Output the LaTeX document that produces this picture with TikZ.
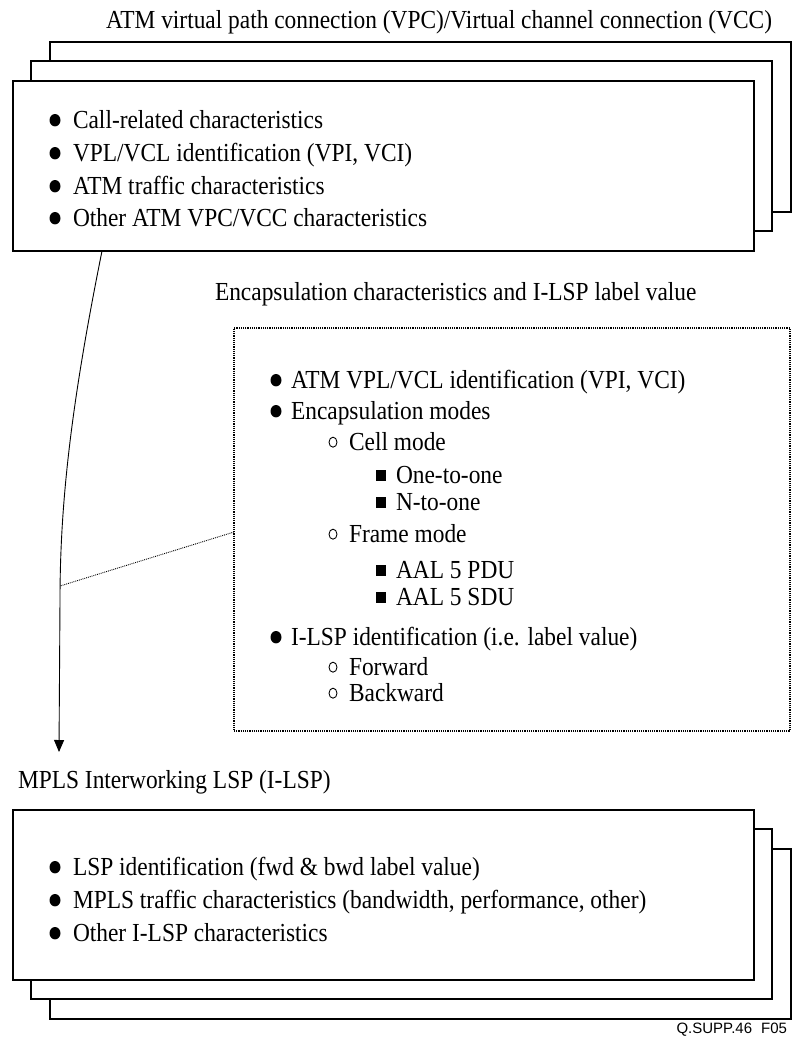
\documentclass[tikz,border=0pt]{standalone}
\usepackage{fontspec}
\setmainfont{Liberation Serif}[FakeStretch=0.9]
\newfontfamily\figsans{Liberation Sans}
\usetikzlibrary{arrows.meta}

% list markers placed left of an item's baseline
\newcommand\mkfull[2]{\fill ([shift={(#2,-7.8)}]#1.base west) ellipse (5.5 and 6.2);}
\newcommand\mkopen[2]{\draw[line width=0.9pt] ([shift={(#2,-7.8)}]#1.base west) ellipse (4 and 5);}
\newcommand\mksquare[2]{\fill ([shift={(#2,-7.8)}]#1.base west) +(-5.2,-5.5) rectangle +(5.2,5.5);}

\begin{document}
\begin{tikzpicture}[x=1pt,y=-1pt,
  every node/.style={inner sep=0pt, outer sep=0pt},
  txt/.style={font=\fontsize{26}{30}\selectfont, anchor=base west},
  card/.style={draw, line width=1.2pt, fill=white, anchor=north west,
    minimum width=741pt, minimum height=170pt},
  encbox/.style={draw, line width=1.2pt, densely dotted, anchor=north west,
    minimum width=556pt, minimum height=403pt},
  flow/.style={line width=0.9pt, -{Triangle[length=12pt,width=10pt]}},
  tap/.style={line width=0.9pt, densely dotted},
]
\useasboundingbox (0,0) rectangle (793,1042);

% ---- ATM VPC/VCC stack ----
\node[txt, anchor=base east] (ttl) at (772,28)
  {ATM virtual path connection (VPC)/Virtual channel connection (VCC)};
\node[card] (tb3) at (50,42) {};
\node[card] (tb2) at (31,61) {};
\node[card] (tb1) at (13,81) {};

\node[txt] (a1) at (73,128) {Call-related characteristics};
\node[txt] (a2) at (73,161) {VPL/VCL identification (VPI, VCI)};
\node[txt] (a3) at (73,194) {ATM traffic characteristics};
\node[txt] (a4) at (73,226) {Other ATM VPC/VCC characteristics};
\foreach \n in {a1,a2,a3,a4} {\mkfull{\n}{-18}}

% ---- encapsulation details ----
\node[txt] (enchd) at (215,300) {Encapsulation characteristics and I-LSP label value};
\node[encbox] (enc) at (234,328) {};

\node[txt] (e1) at (291,388) {ATM VPL/VCL identification (VPI, VCI)};
\node[txt] (e2) at (291,419) {Encapsulation modes};
\node[txt] (e3) at (349,450) {Cell mode};
\node[txt] (e4) at (396,483) {One-to-one};
\node[txt] (e5) at (396,510) {N-to-one};
\node[txt] (e6) at (349,542) {Frame mode};
\node[txt] (e7) at (396,578) {AAL 5 PDU};
\node[txt] (e8) at (396,605) {AAL 5 SDU};
\node[txt] (e9) at (291,645) {I-LSP identification (i.e. label value)};
\node[txt] (e10) at (349,675) {Forward};
\node[txt] (e11) at (349,701) {Backward};
\foreach \n in {e1,e2,e9} {\mkfull{\n}{-15}}
\foreach \n in {e3,e6,e10,e11} {\mkopen{\n}{-16}}
\foreach \n in {e4,e5,e7,e8} {\mksquare{\n}{-15}}

% ---- MPLS I-LSP stack ----
\node[txt] (mhd) at (18,788) {MPLS Interworking LSP (I-LSP)};
\node[card] (bb3) at (50,849) {};
\node[card] (bb2) at (31,829) {};
\node[card] (bb1) at (13,810) {};

\node[txt] (m1) at (73,875) {LSP identification (fwd \& bwd label value)};
\node[txt] (m2) at (73,908) {MPLS traffic characteristics (bandwidth, performance, other)};
\node[txt] (m3) at (73,941) {Other I-LSP characteristics};
\foreach \n in {m1,m2,m3} {\mkfull{\n}{-18}}

% ---- connectors ----
\coordinate (bend) at (60,600);
\coordinate (tip) at (59,752);
\coordinate (join) at (60,586);
\draw[flow] ([xshift=89pt]tb1.south west) .. controls (72,400) and (60,500) .. (bend) -- (tip);
\draw[tap] ([yshift=-204pt]enc.north west) -- (join);

\node[font=\figsans\fontsize{15}{17}\selectfont, anchor=base east] (fig) at (787,1033)
  {Q.SUPP.46\hspace{9pt}F05};
\end{tikzpicture}
\end{document}
